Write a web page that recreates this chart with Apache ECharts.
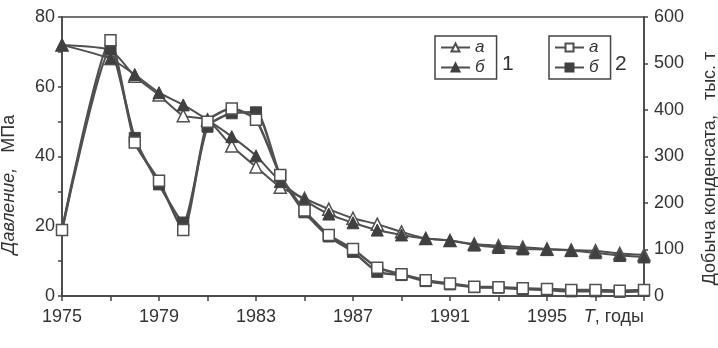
<!DOCTYPE html>
<html><head><meta charset="utf-8">
<script src="https://cdn.jsdelivr.net/npm/echarts@6/dist/echarts.min.js"></script>
<style>html,body{margin:0;padding:0;background:#fff}#c{width:718px;height:348px}</style>
</head><body><div id="c"></div>
<script>
const years = ['1975','1976','1977','1978','1979','1980','1981','1982','1983','1984','1985','1986','1987','1988','1989','1990','1991','1992','1993','1994','1995','1996','1997','1998','1999'];
// Series 1 - pressure, MPa (left axis)
const pressA = [72, null, 70.5, 63, 57.6, 51.7, 50.5, 43, 37, 31.2, 28, 24.9, 22.3, 20.6, 18.4, 16.5, 15.9, 14.9, 14.4, 14.0, 13.5, 13.2, 13.0, 12.2, 11.8];
const pressB = [72, null, 68, 63.5, 58.3, 54.8, 50.5, 45.7, 40.2, 32.8, 27.5, 23.5, 21, 18.9, 17.5, 16.5, 15.9, 14.6, 13.9, 13.5, 13.3, 13.0, 12.4, 11.6, 11.2];
// Series 2 - condensate production, thousand t (right axis)
const prodA = [142, null, 550, 330, 248, 142, 375, 403, 379, 260, 184, 131, 101, 61, 47, 34, 27, 20, 19, 16.5, 15, 13, 13, 11.5, 13];
const prodB = [142, null, 530, 340, 240, 158, 364, 393, 395, 258, 180, 128, 95, 52, 45, 32, 25, 19, 18, 15, 13, 10, 10, 9, 11];
const leftTicks = [0, 20, 40, 60, 80];

const txt = '#333', ax = '#444', ln = '#505050', fill = '#404040';
const FF = '"Liberation Sans", Arial, sans-serif';

function mk(name, data, yIdx, symbol, filled, size, width) {
  return {
    name, type: 'line', data, yAxisIndex: yIdx, connectNulls: true, smooth: 0.2,
    symbol, symbolSize: size, showSymbol: true,
    lineStyle: {color: ln, width},
    itemStyle: filled ? {color: fill, borderColor: fill, borderWidth: 1} : {color: '#fff', borderColor: ln, borderWidth: 1.5},
    emphasis: {disabled: true}, animation: false
  };
}

const chart = echarts.init(document.getElementById('c'), null, {renderer: 'canvas'});
const legendBase = {
  orient: 'vertical', top: 36, itemWidth: 29, itemHeight: 10, itemGap: 3,
  borderColor: ax, borderWidth: 1.5, borderRadius: 0, padding: [3, 12, 3, 5],
  textStyle: {fontFamily: FF, fontSize: 17, fontStyle: 'italic', color: txt, lineHeight: 14},
  formatter: n => n.slice(1), selectedMode: false
};
chart.setOption({
  animation: false,
  textStyle: {fontFamily: FF},
  grid: {left: 62, right: 74, top: 17, bottom: 52, show: true, borderColor: ax, borderWidth: 1.5, containLabel: false, outerBoundsMode: 'none'},
  legend: [
    Object.assign({}, legendBase, {left: 435, data: ['1а', '1б']}),
    Object.assign({}, legendBase, {left: 549, data: ['2а', '2б']})
  ],
  graphic: [
    {type: 'text', left: 502, top: 54, style: {text: '1', fontFamily: FF, fontSize: 21, fill: txt}},
    {type: 'text', left: 615, top: 54, style: {text: '2', fontFamily: FF, fontSize: 21, fill: txt}}
  ],
  xAxis: {
    type: 'category', data: years, boundaryGap: false,
    axisLine: {lineStyle: {color: ax, width: 1.5}},
    axisTick: {interval: 1, length: 5, lineStyle: {color: ax, width: 1.5}},
    axisLabel: {
      interval: 3, margin: 12, color: txt, fontSize: 18, fontFamily: FF, alignMaxLabel: 'right',
      formatter: v => v === '1999' ? '{t|T}, годы' : v,
      rich: {t: {fontStyle: 'italic', fontSize: 18, fontFamily: FF, color: txt}}
    },
    splitLine: {show: false}
  },
  yAxis: [
    {
      type: 'value', min: 0, max: 80, interval: 10, position: 'left',
      name: '{i|Давление,}   МПа', nameLocation: 'middle', nameGap: 44, nameRotate: 90,
      nameTextStyle: {fontFamily: FF, fontSize: 18, color: txt, padding: [0, 56, 0, 0], rich: {i: {fontStyle: 'italic', fontSize: 18, fontFamily: FF, color: txt}}},
      axisLine: {show: true, lineStyle: {color: ax, width: 1.5}},
      axisTick: {show: true, length: 4, lineStyle: {color: ax, width: 1.5}},
      axisLabel: {margin: 7, color: txt, fontSize: 18, fontFamily: FF, padding: [4, 0, 0, 0], formatter: v => leftTicks.includes(v) ? String(v) : ''},
      splitLine: {show: false}
    },
    {
      type: 'value', min: 0, max: 600, interval: 100, position: 'right',
      name: 'Добыча конденсата,   тыс. т', nameLocation: 'middle', nameGap: 57, nameRotate: 90,
      nameTextStyle: {fontFamily: FF, fontSize: 18, color: txt, padding: [0, 24, 0, 0]},
      axisLine: {show: true, lineStyle: {color: ax, width: 1.5}},
      axisTick: {show: true, length: 4, lineStyle: {color: ax, width: 1.5}},
      axisLabel: {margin: 10, color: txt, fontSize: 18, fontFamily: FF, padding: [4, 0, 0, 0]},
      splitLine: {show: false}
    }
  ],
  series: [
    mk('1а', pressA, 0, 'triangle', false, 12, 2),
    mk('1б', pressB, 0, 'triangle', true, 12, 2),
    mk('2б', prodB, 1, 'rect', true, 11, 2.5),
    mk('2а', prodA, 1, 'rect', false, 11, 2.5)
  ]
});
</script></body></html>
